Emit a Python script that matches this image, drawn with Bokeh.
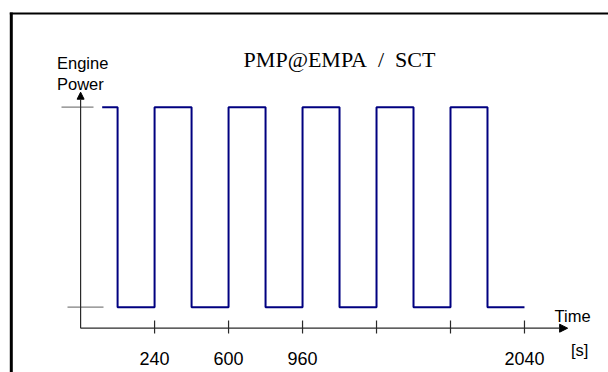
from bokeh.plotting import figure
from bokeh.models import Range1d, Arrow, NormalHead, ColumnDataSource
from bokeh.core.properties import value
from bokeh.embed import file_html
from bokeh.resources import INLINE

# ---- data ----
title_text = "PMP@EMPA\u00a0 /\u00a0 SCT"
y_label_lines = ["Engine", "Power"]
x_label = "Time"
x_unit = "[s]"
switch_times = [-15, 60, 240, 420, 600, 780, 960, 1140, 1320, 1500, 1680, 1860, 2040]
power_levels = [1, 0, 1, 0, 1, 0, 1, 0, 1, 0, 1, 0, 0]
tick_values = [240, 600, 960, 1320, 1680, 2040]
tick_labels = ["240", "600", "960", "", "", "2040"]
power_ticks = [0, 1]
axis_start_time = -120
axis_end_time = 2250
axis_level = -0.105
axis_top_level = 1.075

# ---- layout (pixel mapping) ----
W, H = 608, 372
X0, XS = 104.76, 0.2055      # px of t=0, px per second
Y0, YS = 306.7, 200.0        # px (from top) of P=0, px per unit power


def dx(px):
    return (px - X0) / XS


def dy(py):
    return (Y0 - py) / YS


p = figure(width=W, height=H, x_range=Range1d(dx(0), dx(W)), y_range=Range1d(dy(H), dy(0)),
           toolbar_location=None, output_backend="svg", min_border=0,
           x_axis_type=None, y_axis_type=None)
p.grid.visible = False
p.outline_line_color = None
p.background_fill_color = "white"
p.border_fill_color = "white"

# picture frame
p.segment(x0=[dx(10.8)], y0=[dy(12)], x1=[dx(10.8)], y1=[dy(H + 5)], line_color="black", line_width=3)
p.segment(x0=[dx(9.3)], y0=[dy(13)], x1=[dx(W + 5)], y1=[dy(13)], line_color="black", line_width=2)

# y ticks (gray)
p.segment(x0=[dx(61), dx(67)], y0=[power_ticks[1], power_ticks[0]],
          x1=[dx(93), dx(103)], y1=[power_ticks[1], power_ticks[0]],
          line_color="#7f7f7f", line_width=1.2)

# axes with arrows
axis_color = "#2a2a2a"
p.add_layout(Arrow(x_start=axis_start_time, y_start=axis_level, x_end=axis_end_time, y_end=axis_level,
                   line_color=axis_color, line_width=1.2,
                   end=NormalHead(size=8, fill_color="black", line_color="black")))
p.add_layout(Arrow(x_start=axis_start_time, y_start=axis_level, x_end=axis_start_time, y_end=axis_top_level,
                   line_color=axis_color, line_width=1.2,
                   end=NormalHead(size=7, fill_color="black", line_color="black")))

# x tick marks
p.segment(x0=tick_values, y0=[dy(320)] * len(tick_values), x1=tick_values, y1=[dy(333)] * len(tick_values),
          line_color=axis_color, line_width=1.2)

# square wave
p.step(switch_times, power_levels, mode="after", line_color="#000080", line_width=2)

# tick labels
src = ColumnDataSource(dict(x=tick_values, y=[dy(358.3)] * len(tick_values), t=tick_labels))
p.text(x="x", y="y", text="t", source=src, text_align="center", text_baseline="alphabetic",
       text_font=value("Liberation Sans"), text_font_size="18px", text_color="black")

# axis labels
p.text(x=[dx(56.5)] * 2, y=[dy(62.3), dy(83.2)], text=y_label_lines, text_align="left",
       text_baseline="alphabetic", text_font=value("Liberation Sans"), text_font_size="16.5px",
       text_color="black")
p.text(x=[dx(554)], y=[dy(315)], text=[x_label], text_align="left", text_baseline="alphabetic",
       text_font=value("Liberation Sans"), text_font_size="16.5px", text_color="black")
p.text(x=[dx(570.5)], y=[dy(349.8)], text=[x_unit], text_align="left", text_baseline="alphabetic",
       text_font=value("Liberation Sans"), text_font_size="16.5px", text_color="black")

# title
p.text(x=[1140], y=[dy(59.3)], text=[title_text], text_align="center", text_baseline="alphabetic",
       text_font=value("Liberation Serif"), text_font_size="22px", text_color="black")

open("out.html", "w").write(file_html(p, INLINE))
